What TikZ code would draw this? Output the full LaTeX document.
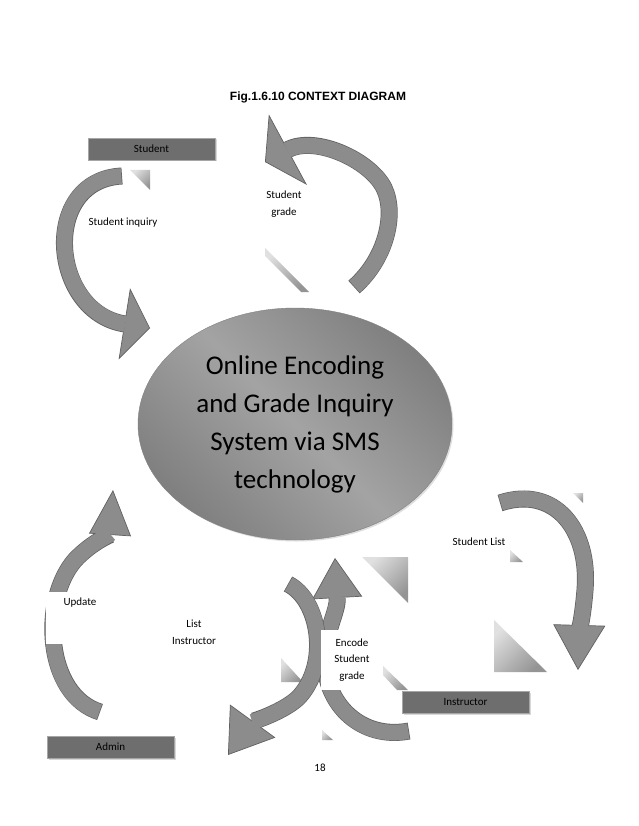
\documentclass[tikz,border=0pt]{standalone}
\usepackage{fontspec}
\setmainfont{Carlito}
\newfontfamily\titlefont{Liberation Sans}
\usetikzlibrary{arrows.meta,shapes.geometric,shadows}

\tikzset{
  ribbon/.style 2 args={line width=17pt, draw=black!62,
    -{Triangle[width=#1pt, length=#2pt, line width=0.7pt, fill=black!45]},
    postaction={draw=black!45, line width=15.6pt, -, shorten >=#2pt-1pt, shorten <=0.7pt}},
  actor/.style={rectangle, fill=black!57, draw=black!35, minimum width=127pt, minimum height=22pt,
    inner sep=0pt, font=\fontsize{11}{13}\selectfont,
    drop shadow={shadow xshift=1.5pt, shadow yshift=-1.5pt, fill=black!30}},
  lbl/.style={font=\fontsize{11}{16.5}\selectfont, align=center, inner sep=2pt},
  blank/.style={fill=white},
  smear/.style={top color=black!12, bottom color=black!42, shading angle=45},
}

\begin{document}
\begin{tikzpicture}[x=1pt,y=-1pt]
    \useasboundingbox (0,0) rectangle (638,826);
    \fill[white] (0,0) rectangle (638,826);

    \node[font=\titlefont\bfseries\fontsize{12}{14}\selectfont] (title) at (318,97) {Fig.1.6.10 CONTEXT DIAGRAM};

    % stray bits left over in the scan
    \foreach \ax/\ay/\bx/\by/\cx/\cy in {130/170/150/170/150/190, 362/557/408/557/408/603,
        510/550/510/562/523/562, 494/620/494/672/547/672, 573/493/583/493/583/503,
        281/658/281/682/303/682, 322/730/322/740/333/740}{
        \shade[smear] (\ax,\ay) -- (\bx,\by) -- (\cx,\cy) -- cycle;
    }
    \shade[smear] (265,248) -- (265,256) -- (301,292) -- (309,292) -- cycle;
    \shade[smear] (383,666) -- (383,675) -- (397,690) -- (408,690) -- cycle;

    % curved flows
    \coordinate (inqS) at (122,176);
    \coordinate (inqE) at (150,328);
    \draw[ribbon={72}{26}] (inqS) .. controls (40,180) and (50,312) .. (inqE);

    \coordinate (grdS) at (354,287);
    \coordinate (grdE) at (265,162);
    \draw[ribbon={80}{26}] (grdS) .. controls (385,260) and (397,215) .. (384,188) .. controls (370,160) and (315,135) .. (grdE);

    \coordinate (lstS) at (500,503);
    \coordinate (lstE) at (578,670);
    \draw[ribbon={52}{45}] (lstS) .. controls (555,485) and (590,530) .. (585,590) .. controls (583,615) and (579,635) .. (lstE);

    \coordinate (updS) at (100,712);
    \coordinate (updE) at (113,490);
    \draw[ribbon={42}{45}] (updS) .. controls (45,695) and (40,600) .. (75,560) .. controls (92,542) and (110,535) .. (updE);

    \coordinate (encS) at (409,731);
    \coordinate (encE) at (335,558);
    \draw[ribbon={50}{40}] (encS) .. controls (362,740) and (325,705) .. (325,660) .. controls (325,630) and (338,612) .. (encE);

    \coordinate (insS) at (288,584);
    \coordinate (insE) at (228,755);
    \draw[ribbon={56}{42}] (insS) .. controls (320,600) and (330,665) .. (298,698) .. controls (283,712) and (252,722) .. (insE);

    % the system
    \node[ellipse, minimum width=314pt, minimum height=232pt, inner sep=0pt, draw=black!50,
        top color=black!50, bottom color=black!50, middle color=black!36, shading angle=135,
        drop shadow={shadow xshift=1.5pt, shadow yshift=-1.5pt, fill=black!25},
        font=\fontsize{27}{38}\selectfont, align=center] (sys) at (295,424)
        {Online Encoding\\and Grade Inquiry\\System via SMS\\technology};

    % entities
    \node[actor] (student) at (151.5,149) {Student};
    \node[actor] (instructor) at (465.5,702) {Instructor};
    \node[actor] (admin) at (110.5,747) {Admin};

    % flow labels
    \node[lbl] (inq) at (123,223) {Student inquiry};
    \node[lbl] (grd) at (284,204) {Student\\grade};
    \node[lbl] (lst) at (479,542) {Student List};
    \node[lbl, blank, anchor=north, minimum width=68pt, inner ysep=6pt, text depth=32pt] (upd) at (80,592) {Update};
    \node[lbl] (ins) at (194,632) {List\\Instructor};
    \node[lbl, blank, minimum width=62pt, minimum height=60pt] (enc) at (352,660) {Encode\\Student\\grade};

    \node[lbl] (page) at (320,768) {18};
\end{tikzpicture}
\end{document}
